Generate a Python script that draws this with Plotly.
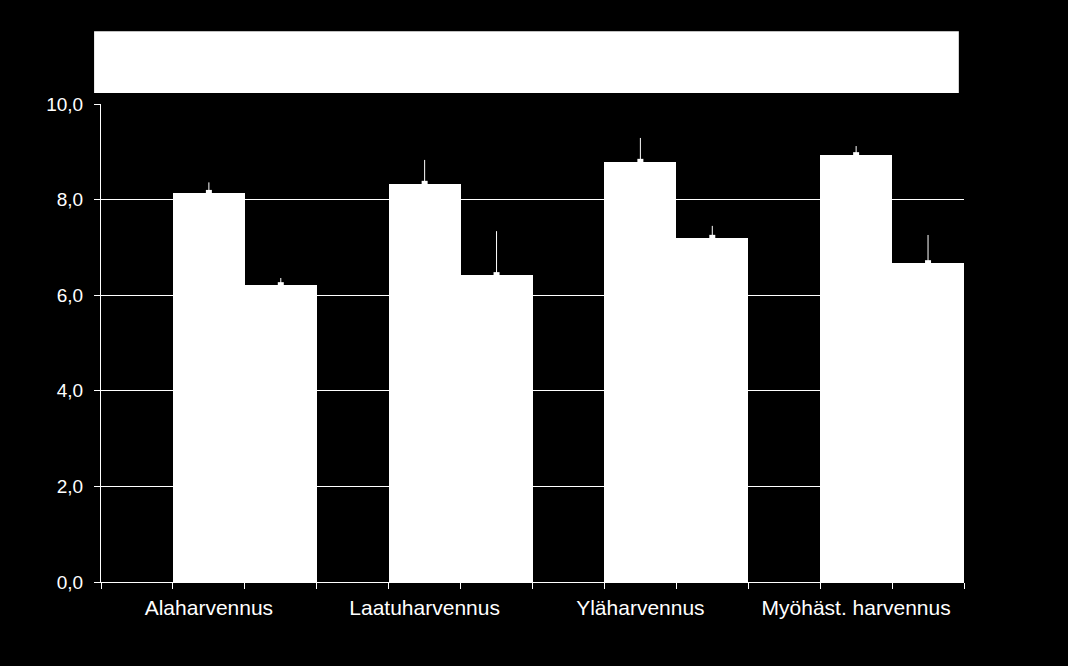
import plotly.graph_objects as go

categories = ["Alaharvennus", "Laatuharvennus", "Yläharvennus", "Myöhäst. harvennus"]
series_a = [8.14, 8.33, 8.79, 8.93]
series_a_upper = [8.36, 8.83, 9.29, 9.12]
series_b = [6.21, 6.42, 7.20, 6.67]
series_b_upper = [6.36, 7.34, 7.45, 7.26]
y_ticks = [0, 2, 4, 6, 8, 10]

x = list(range(len(categories)))
slot = 1 / 3

fig = go.Figure()
# empty first slot in each group
fig.add_trace(go.Bar(x=x, y=[None] * len(x), marker_color="black", showlegend=False))
fig.add_trace(go.Bar(x=x, y=series_a, marker=dict(color="white", line_width=0), showlegend=False))
fig.add_trace(go.Bar(x=x, y=series_b, marker=dict(color="white", line_width=0), showlegend=False))

for k, (vals, up) in enumerate([(series_a, series_a_upper), (series_b, series_b_upper)]):
    fig.add_trace(go.Scatter(
        x=[xi + k * slot for xi in x], y=vals, mode="markers",
        marker=dict(symbol="square", size=6, color="white", line_width=0),
        error_y=dict(type="data", symmetric=False,
                     array=[u - v for u, v in zip(up, vals)],
                     arrayminus=[0] * len(vals),
                     color="white", thickness=1, width=0),
        showlegend=False, hoverinfo="skip"))

fig.add_shape(type="rect", xref="paper", yref="paper",
              x0=-0.008, x1=0.994, y0=1.023, y1=1.152,
              fillcolor="white", line_width=0, layer="above")

fig.update_layout(
    width=1068, height=666,
    paper_bgcolor="black", plot_bgcolor="black",
    margin=dict(l=101, r=104, t=104, b=84),
    barmode="group", bargap=0, bargroupgap=0,
    separators=", ",
    font=dict(family="Liberation Sans, Arial, sans-serif", color="white", size=19),
    showlegend=False,
)
fig.update_xaxes(
    range=[-0.5, len(categories) - 0.5],
    tickmode="array", tickvals=x, ticktext=categories,
    ticks="", showgrid=False, zeroline=False,
    showline=True, linecolor="white", linewidth=1,
    ticklabelstandoff=7,
    tickfont=dict(size=21, color="white"),
    minor=dict(tickmode="linear", tick0=-0.5, dtick=slot, ticks="outside",
               ticklen=6, tickcolor="white", tickwidth=1, showgrid=False),
)
fig.update_yaxes(
    range=[0, 10], tickmode="array", tickvals=y_ticks, tickformat=".1f",
    showgrid=True, gridcolor="white", gridwidth=1, zeroline=False,
    showline=True, linecolor="white", linewidth=1,
    ticks="outside", ticklen=6, tickcolor="white", tickwidth=1,
    ticklabelstandoff=7,
    tickfont=dict(size=19, color="white"),
)

fig.write_html("out.html")
